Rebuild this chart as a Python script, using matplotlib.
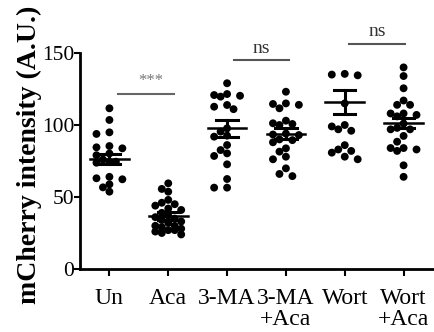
import numpy as np
import matplotlib
matplotlib.use('Agg')
import matplotlib.pyplot as plt

plt.rcParams['font.family'] = ['Liberation Serif', 'DejaVu Serif']

# data
groups = ['Un', 'Aca', '3-MA', '3-MA\n+Aca', 'Wort', 'Wort\n+Aca']
un = [111.6, 103.5, 93.8, 94.9, 83.8, 85.4, 84.5, 80.2, 79, 76, 74.5, 74.5,
      73.8, 63, 64, 62.3, 58.8, 56.7, 53.7]
aca = [59.5, 55.6, 53.7, 48, 46, 45, 44, 42, 41, 39, 37, 36, 35, 34, 33, 32,
       30, 30, 29, 28, 27, 27, 26, 25, 24]
ma = [129, 120.3, 121.5, 119.7, 120.8, 113.9, 111, 112.7, 97.7, 95.4, 92.6,
      91.9, 86.1, 78.5, 80.3, 82.6, 72.7, 62.5, 56.5, 56.5]
ma_aca = [123.1, 114.6, 111.6, 115, 114, 103, 100.7, 101.2, 100, 93.4, 94, 93,
          89.5, 90, 88, 83.8, 81.5, 78, 76.2, 69.9, 64.5, 66]
wort = [135, 135.5, 134.5, 115, 100, 96, 99, 97, 86, 83, 82, 80.8, 78, 76.2]
wort_aca = [140, 134, 125.5, 114, 114, 117, 108, 107, 108, 106, 101, 97, 98,
            97, 92.4, 88.4, 84, 82, 84, 83, 72, 64]
means = [76.4, 36.8, 97.7, 93.8, 115.7, 101.2]
sems = [3.5, 2.5, 5.8, 3.8, 8.3, 3.5]

series = [un, aca, ma, ma_aca, wort, wort_aca]

fig = plt.figure(figsize=(4.35, 3.32), dpi=100)
ax = fig.add_axes([80/435, 1 - 269/332, 353/435, 216/332])
ax.set_xlim(-0.5, 5.5)
ax.set_ylim(0, 150)

# pixel scale of the axes, used for the swarm layout
px_x = 353 / 6.0
px_y = 216 / 150.0


def swarm(vals, step=0.11, dmin=7.0, kmax=2):
    # points spread sideways into a few columns, overlapping when crowded
    vals = np.asarray(vals, dtype=float)
    offs = np.zeros(len(vals))
    placed = []
    cands = [0] + [s * k for k in range(1, kmax + 1) for s in (-1, 1)]
    for i in np.argsort(vals)[::-1]:
        best, best_d = 0, -1
        for k in cands:
            d = min([np.hypot((k * step - ox) * px_x, (vals[i] - oy) * px_y)
                     for ox, oy in placed] or [99])
            if d >= dmin:
                best = k
                break
            if d > best_d + 0.5:
                best, best_d = k, d
        offs[i] = best * step
        placed.append((best * step, vals[i]))
    return offs


for i, vals in enumerate(series):
    xs = i + swarm(vals)
    ax.scatter(xs, vals, s=32, color='black', edgecolors='none', zorder=3)
    ax.plot([i - 0.33, i + 0.33], [means[i]] * 2, color='black', lw=1.8, zorder=4)
    ax.plot([i, i], [means[i] - sems[i], means[i] + sems[i]], color='black', lw=2.2, zorder=4)
    for y in (means[i] - sems[i], means[i] + sems[i]):
        ax.plot([i - 0.18, i + 0.18], [y, y], color='black', lw=2.2, zorder=4)

# significance marks
ax.plot([0.15, 1.1], [121.5, 121.5], color='#666666', lw=1.5, clip_on=False)
ax.text(0.71, 125, '***', ha='center', va='bottom', fontsize=12, color='#777777')
ax.plot([2.11, 3.05], [145, 145], color='#555555', lw=1.5, clip_on=False)
ax.text(2.58, 147, 'ns', ha='center', va='bottom', fontsize=14, color='#333333')
ax.plot([4.07, 5.02], [156, 156], color='#555555', lw=1.5, clip_on=False)
ax.text(4.55, 159, 'ns', ha='center', va='bottom', fontsize=14, color='#333333')

ax.set_xticks(range(len(groups)))
ax.set_xticklabels(groups, fontsize=17, linespacing=1.0)
ax.set_yticks([0, 50, 100, 150])
ax.tick_params(axis='y', labelsize=15.5, length=4, width=1.5, pad=0)
ax.tick_params(axis='x', length=5, width=1.5, pad=9)

for side in ['top', 'right']:
    ax.spines[side].set_visible(False)
for side in ['left', 'bottom']:
    ax.spines[side].set_linewidth(2)

ax.set_ylabel('mCherry intensity (A.U.)', fontsize=20, fontweight='bold')
ax.yaxis.set_label_coords(-0.108, 0.53)

fig.savefig('out.png', dpi=100)
